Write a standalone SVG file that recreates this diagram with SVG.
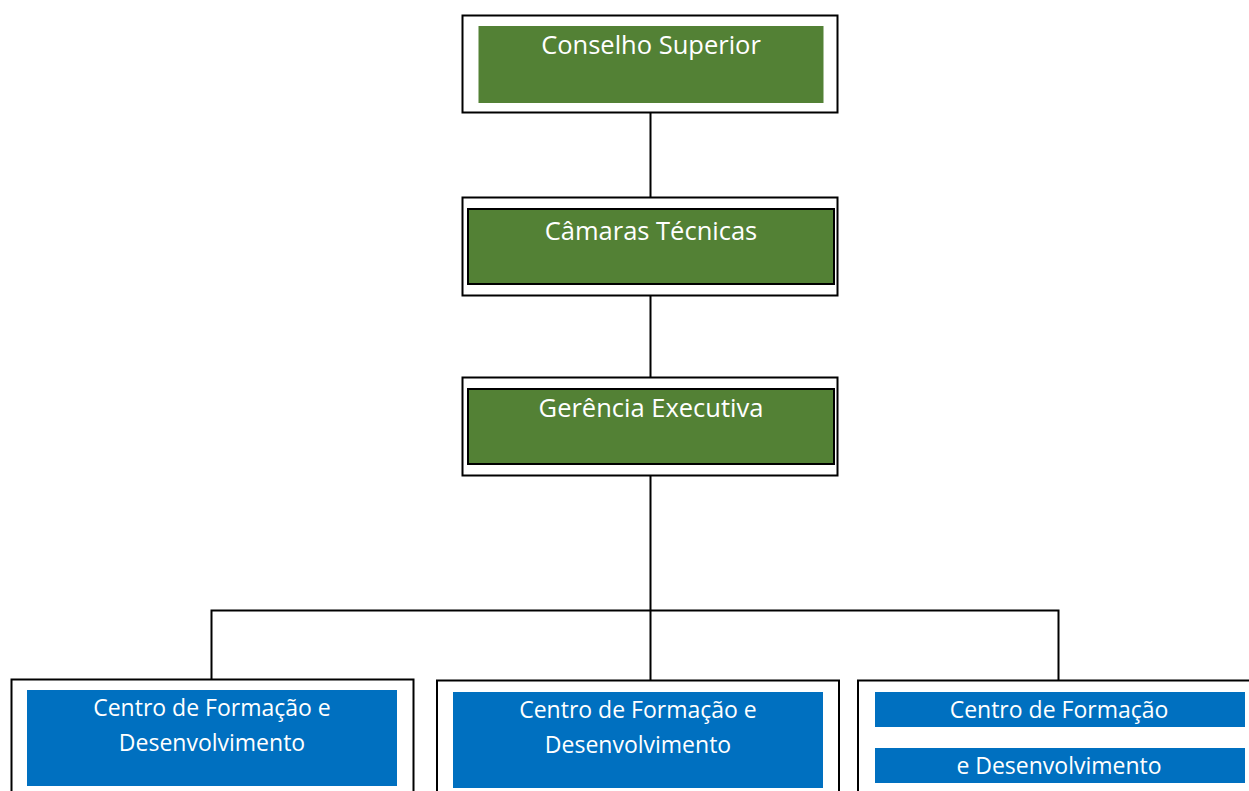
<svg xmlns="http://www.w3.org/2000/svg" width="1249" height="791" viewBox="0 0 1249 791">
<style>
.outer{fill:#fff;stroke:#000;stroke-width:2}
.green{fill:#538135}
.greenb{fill:#538135;stroke:#000;stroke-width:2}
.blue{fill:#0070C0}
.t{font-family:"Open Sans","Noto Sans",sans-serif;font-size:25.5px;fill:#fff;text-anchor:middle}
.tb{font-family:"Open Sans","Noto Sans",sans-serif;font-size:23px;fill:#fff;text-anchor:middle}
.c{fill:none;stroke:#000;stroke-width:2}
</style>
<rect width="1249" height="791" fill="#fff"/>
<g id="connectors">
<path class="c" d="M650.5 113V197M650.5 296V377M650.5 476V681M211.5 680V610.5H1058.5V681"/>
</g>
<g id="n1">
<rect class="outer" x="462.5" y="15.5" width="375" height="97"/>
<rect class="green" x="478.5" y="26" width="345" height="77"/>
<text class="t" x="651" y="54">Conselho Superior</text>
</g>
<g id="n2">
<rect class="outer" x="462.5" y="197.5" width="375" height="98"/>
<rect class="greenb" x="468" y="209" width="366" height="75"/>
<text class="t" x="651" y="240">Câmaras Técnicas</text>
</g>
<g id="n3">
<rect class="outer" x="462.5" y="377.5" width="375" height="98"/>
<rect class="greenb" x="468" y="389" width="366" height="75"/>
<text class="t" x="651" y="417">Gerência Executiva</text>
</g>
<g id="n4">
<rect class="outer" x="11.5" y="679.5" width="402" height="130"/>
<rect class="blue" x="27" y="690" width="370" height="96"/>
<text class="tb" x="212" y="716">Centro de Formação e</text>
<text class="tb" x="212" y="751">Desenvolvimento</text>
</g>
<g id="n5">
<rect class="outer" x="437" y="680.5" width="402" height="130"/>
<rect class="blue" x="453" y="692" width="370" height="96"/>
<text class="tb" x="638" y="718">Centro de Formação e</text>
<text class="tb" x="638" y="753">Desenvolvimento</text>
</g>
<g id="n6">
<rect class="outer" x="858" y="680.5" width="420" height="130"/>
<rect class="blue" x="875" y="692" width="370" height="35"/>
<rect class="blue" x="875" y="748" width="370" height="35"/>
<text class="tb" x="1059" y="718">Centro de Formação</text>
<text class="tb" x="1059" y="774">e Desenvolvimento</text>
</g>
</svg>
